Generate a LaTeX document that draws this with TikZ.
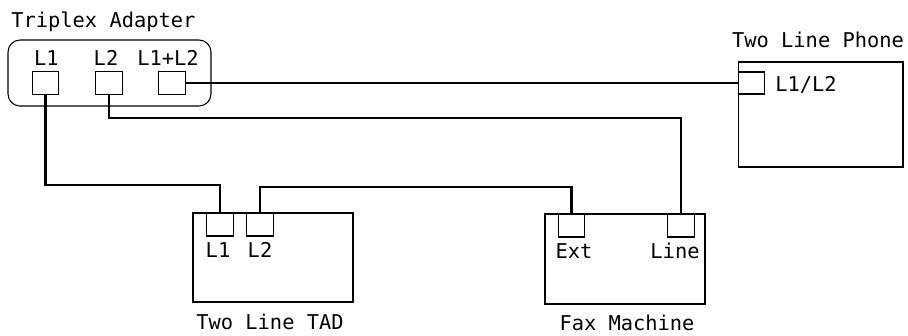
\documentclass[tikz,border=0pt]{standalone}
\usepackage{fontspec}
\newfontfamily\labelfont{DejaVu Sans Mono}
\usetikzlibrary{positioning}

\begin{document}
\begin{tikzpicture}[x=0.02cm,y=-0.02cm,
  device/.style={draw,line width=0.6pt,inner sep=0pt},
  jack/.style={draw,line width=0.6pt,inner sep=0pt,minimum width=0.53cm,minimum height=0.46cm},
  wire/.style={line width=1.3pt},
  lbl/.style={font=\labelfont\fontsize{11.6}{13}\selectfont,inner sep=0pt}]
\useasboundingbox (0,0) rectangle (908,335);

% triplex adapter
\node[device,rounded corners=0.24cm,minimum width=4.06cm,minimum height=1.32cm] (adapter) at (109.5,73) {};
\node[lbl,anchor=base west] (adaptername) at (11,27) {Triplex Adapter};
\node[jack] (aL1) at (45.5,83) {};
\node[jack] (aL2) at (109,83) {};
\node[jack] (aL12) at (172,83) {};
\node[lbl,anchor=base] (aL1txt) at (46.5,65) {L1};
\node[lbl,anchor=base] (aL2txt) at (106,65) {L2};
\node[lbl,anchor=base] (aL12txt) at (168,65) {L1+L2};

% two line phone
\node[device,minimum width=3.3cm,minimum height=2.1cm] (phone) at (820.5,114.5) {};
\node[lbl,anchor=base] (phonename) at (818,47.5) {Two Line Phone};
\node[jack,minimum height=0.44cm] (pL) at (751.5,83) {};
\node[lbl,anchor=base west] (pLtxt) at (775,91) {L1/L2};

% two line TAD
\node[device,minimum width=3.2cm,minimum height=1.78cm] (tad) at (273,257.5) {};
\node[lbl,anchor=base] (tadname) at (270,329) {Two Line TAD};
\node[jack] (tL1) at (220,224.5) {};
\node[jack] (tL2) at (260,224.5) {};
\node[lbl,anchor=base] (tL1txt) at (218,257) {L1};
\node[lbl,anchor=base] (tL2txt) at (260,257) {L2};

% fax machine
\node[device,minimum width=3.2cm,minimum height=1.8cm] (fax) at (625,259) {};
\node[lbl,anchor=base] (faxname) at (627,330) {Fax Machine};
\node[jack] (fExt) at (571.5,225.5) {};
\node[jack] (fLine) at (681,225.5) {};
\node[lbl,anchor=base] (fExttxt) at (574,258) {Ext};
\node[lbl,anchor=base] (fLinetxt) at (675,258) {Line};

% wires
\draw[wire] (aL12.east) -- (pL.west);
\draw[wire] (aL1.south) -- (aL1.south |- 0,185) -| (tL1.north);
\draw[wire] (aL2.south) -- (aL2.south |- 0,118) -| (fLine.north);
\draw[wire] (tL2.north) -- (tL2.north |- 0,187) -| (fExt.north);
\end{tikzpicture}
\end{document}
